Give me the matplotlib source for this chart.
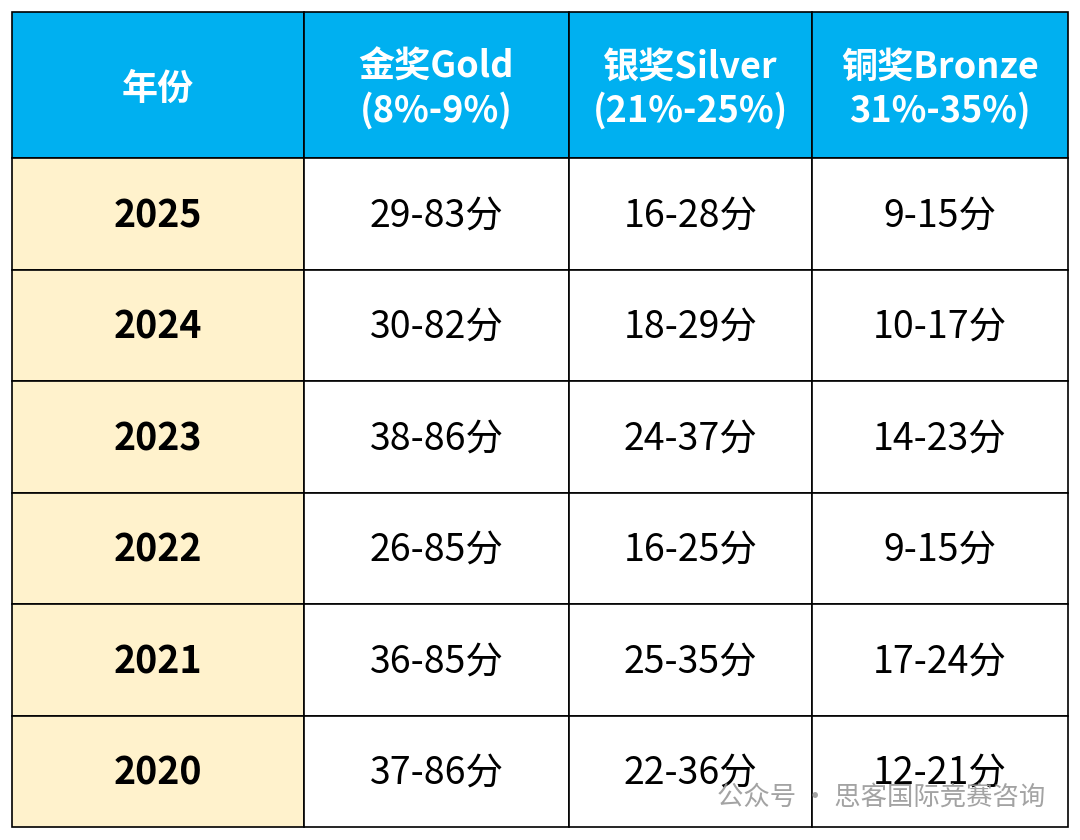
import matplotlib.pyplot as plt
from matplotlib.patches import Rectangle

plt.rcParams["font.family"] = ["Noto Sans CJK SC"]

headers = ["年份", "金奖Gold\n(8%-9%)", "银奖Silver\n(21%-25%)", "铜奖Bronze\n31%-35%)"]
years = ["2025", "2024", "2023", "2022", "2021", "2020"]
gold = ["29-83分", "30-82分", "38-86分", "26-85分", "36-85分", "37-86分"]
silver = ["16-28分", "18-29分", "24-37分", "16-25分", "25-35分", "22-36分"]
bronze = ["9-15分", "10-17分", "14-23分", "9-15分", "17-24分", "12-21分"]

col_edges = [12, 304, 569, 812, 1068]
header_h = 146
row_h = 111.5
top = 12

fig = plt.figure(figsize=(10.8, 8.4), dpi=100)
ax = fig.add_axes([0, 0, 1, 1])
ax.set_xlim(0, 1080)
ax.set_ylim(840, 0)
ax.axis("off")

# header
for i, h in enumerate(headers):
    x0, x1 = col_edges[i], col_edges[i + 1]
    ax.add_patch(Rectangle((x0, top), x1 - x0, header_h, facecolor="#00B0F0",
                           edgecolor="black", linewidth=1.2))
    ax.text((x0 + x1) / 2, top + header_h / 2 + 4, h, ha="center", va="center",
            color="white", fontsize=26, fontweight="bold", linespacing=1.2)

# body
rows = list(zip(years, gold, silver, bronze))
for r, row in enumerate(rows):
    y0 = top + header_h + r * row_h
    for c, val in enumerate(row):
        x0, x1 = col_edges[c], col_edges[c + 1]
        fc = "#FFF2CC" if c == 0 else "white"
        ax.add_patch(Rectangle((x0, y0), x1 - x0, row_h, facecolor=fc,
                               edgecolor="black", linewidth=1.2))
        ax.text((x0 + x1) / 2, y0 + row_h / 2 + 2, val, ha="center", va="center",
                color="black", fontsize=27,
                fontweight="bold" if c == 0 else "normal")

# watermark
ax.text(1045, 797, "公众号 · 思客国际竞赛咨询", ha="right", va="center",
        color="#999999", fontsize=19, alpha=0.9)

fig.savefig("out.png", dpi=100)
